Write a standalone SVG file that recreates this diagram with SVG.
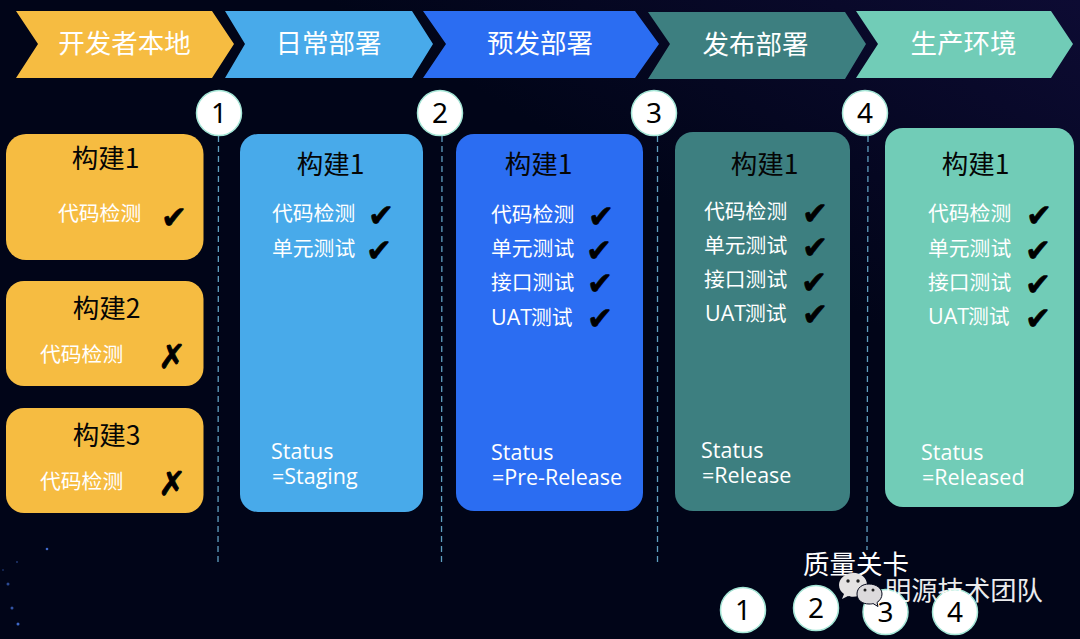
<svg xmlns="http://www.w3.org/2000/svg" width="1080" height="639" viewBox="0 0 1080 639">
<style>
text{font-family:"Noto Sans CJK SC","Noto Sans",sans-serif}
.h{font-size:26.5px;fill:#fff;text-anchor:middle}
.t{font-size:26.5px;fill:#050505;text-anchor:middle}
.i{font-size:20.8px;fill:#fff}
.s{font-size:21.5px;fill:#fff;font-family:"Open Sans","Noto Sans",sans-serif}
.k{font-size:31px;fill:#000;stroke:#000;stroke-width:.6;font-family:"DejaVu Sans",sans-serif;font-weight:700;text-anchor:middle}
.x{font-size:33px;fill:#000;stroke:#000;stroke-width:.9;font-family:"DejaVu Sans",sans-serif;font-weight:700;text-anchor:middle}
.n{font-size:28px;fill:#000;text-anchor:middle;font-family:"Noto Sans",sans-serif}
.c{fill:#fff;stroke:#a4e6d6;stroke-width:1.5}
.d{stroke:#5f9fc0;stroke-width:1.3;stroke-dasharray:6 4;fill:none}
.star{fill:#3f68c8}
.o{fill:#f6bc41}.b{fill:#48aaea}.u{fill:#2b6df2}.g{fill:#3d7f80}.m{fill:#71ccb7}
</style>
<defs>
<linearGradient id="bg" x1="0" y1="1" x2="1" y2="0"><stop offset="0" stop-color="#010518"/><stop offset="0.65" stop-color="#010518"/><stop offset="1" stop-color="#0d0b33"/></linearGradient>
</defs>
<rect width="1080" height="639" fill="url(#bg)"/>
<g id="stars">
<circle class="star" cx="47" cy="549" r="1.3"/><circle class="star" cx="17" cy="562" r="1" opacity=".5"/><circle class="star" cx="3" cy="570" r="1" opacity=".4"/><circle class="star" cx="8" cy="584" r="1.5" opacity=".7"/><circle class="star" cx="12" cy="608" r="1.5" opacity=".8"/><circle class="star" cx="18" cy="624" r="1.5"/>
</g>
<g id="connectors">
<line class="d" x1="218.5" y1="136" x2="218" y2="562"/>
<line class="d" x1="442" y1="136" x2="441.5" y2="562"/>
<line class="d" x1="657.5" y1="136" x2="657.5" y2="564"/>
<line class="d" x1="868" y1="136" x2="867" y2="550"/>
</g>
<g id="stage-local"><polygon class="o" points="16,11 212,11 234,44 212,78 16,78 38,44"/><text class="h" x="124.500" y="53">开发者本地</text></g>
<g id="stage-daily"><polygon class="b" points="225,11 412,11 433,44 412,78 225,78 245,44"/><text class="h" x="328.500" y="53">日常部署</text></g>
<g id="stage-pre"><polygon class="u" points="423,11 635,11 659,44 635,78 423,78 446,44"/><text class="h" x="540" y="53">预发部署</text></g>
<g id="stage-release"><polygon class="g" points="648,12 845,12 866,44 845,79 648,79 670,44"/><text class="h" x="755.500" y="54">发布部署</text></g>
<g id="stage-prod"><polygon class="m" points="856,11 1051,11 1073,44 1051,78 856,78 878,44"/><text class="h" x="963.500" y="53">生产环境</text></g>

<g id="gate-1"><circle class="c" cx="219" cy="113" r="22.5"/><text class="n" x="219" y="123">1</text></g>
<g id="gate-2"><circle class="c" cx="440" cy="113" r="22.5"/><text class="n" x="440" y="123">2</text></g>
<g id="gate-3"><circle class="c" cx="654" cy="113" r="22.5"/><text class="n" x="654" y="123">3</text></g>
<g id="gate-4"><circle class="c" cx="865" cy="113" r="22.5"/><text class="n" x="865" y="123">4</text></g>

<g id="build-1"><rect class="o" x="6" y="134" width="197.500" height="126" rx="20"/><text class="t" x="105.500" y="168">构建1</text><text class="i" x="58" y="221">代码检测</text><text class="k" x="174" y="228">✔</text></g>
<g id="build-2"><rect class="o" x="6" y="281" width="197.500" height="105" rx="18"/><text class="t" x="106.500" y="318">构建2</text><text class="i" x="40" y="362">代码检测</text><text class="x" x="172" y="368">✗</text></g>
<g id="build-3"><rect class="o" x="6" y="408" width="197.500" height="105" rx="18"/><text class="t" x="106.500" y="445">构建3</text><text class="i" x="40" y="489">代码检测</text><text class="x" x="172" y="495">✗</text></g>

<g id="card-daily"><rect class="b" x="240" y="134" width="183" height="378" rx="18"/><text class="t" x="330.500" y="174">构建1</text>
<text class="i" x="272" y="221">代码检测</text><text class="k" x="381" y="226">✔</text>
<text class="i" x="272" y="256">单元测试</text><text class="k" x="379" y="261">✔</text>
<text class="s" x="271" y="459">Status</text><text class="s" x="272" y="484">=Staging</text></g>

<g id="card-pre"><rect class="u" x="456" y="134" width="187" height="377" rx="18"/><text class="t" x="538.500" y="174">构建1</text>
<text class="i" x="491" y="222">代码检测</text><text class="k" x="601" y="227">✔</text>
<text class="i" x="491" y="256">单元测试</text><text class="k" x="599" y="261">✔</text>
<text class="i" x="491" y="290">接口测试</text><text class="k" x="600" y="294">✔</text>
<text class="s" x="491" y="325">UAT</text><text class="i" x="531" y="325">测试</text><text class="k" x="600" y="329">✔</text>
<text class="s" x="491" y="460">Status</text><text class="s" x="492" y="485">=Pre-Release</text></g>

<g id="card-release"><rect class="g" x="675" y="132" width="175" height="379" rx="18"/><text class="t" x="764.500" y="174">构建1</text>
<text class="i" x="704" y="219">代码检测</text><text class="k" x="815" y="224">✔</text>
<text class="i" x="704" y="253">单元测试</text><text class="k" x="815" y="258">✔</text>
<text class="i" x="704" y="287">接口测试</text><text class="k" x="814" y="293">✔</text>
<text class="s" x="705" y="321">UAT</text><text class="i" x="745" y="321">测试</text><text class="k" x="815" y="325">✔</text>
<text class="s" x="701" y="458">Status</text><text class="s" x="702" y="483">=Release</text></g>

<g id="card-prod"><rect class="m" x="885" y="128" width="189" height="379" rx="18"/><text class="t" x="975.500" y="174">构建1</text>
<text class="i" x="928" y="221">代码检测</text><text class="k" x="1039" y="226">✔</text>
<text class="i" x="928" y="256">单元测试</text><text class="k" x="1038" y="261">✔</text>
<text class="i" x="928" y="290">接口测试</text><text class="k" x="1038" y="295">✔</text>
<text class="s" x="928" y="324">UAT</text><text class="i" x="968" y="324">测试</text><text class="k" x="1038" y="329">✔</text>
<text class="s" x="921" y="460">Status</text><text class="s" x="922" y="485">=Released</text></g>

<g id="legend">
<text class="h" x="856" y="574">质量关卡</text>
<g id="legend-1"><circle class="c" cx="743" cy="610" r="22.5"/><text class="n" x="743" y="620">1</text></g>
<g id="legend-2"><circle class="c" cx="816" cy="608" r="22.5"/><text class="n" x="816" y="618">2</text></g>
<g id="legend-3"><circle class="c" cx="885.500" cy="612" r="22.5"/><text class="n" x="885.500" y="622">3</text></g>
<g id="legend-4"><circle class="c" cx="955" cy="612" r="22.500"/><text class="n" x="955" y="622">4</text></g>
</g>
<g id="watermark">
<path d="M853 573c-8 0-14 6-14 12 0 4 2 7 5 9l-2 5 6-3c2 .6 3 .8 5 .8 8 0 14-5 14-12s-6-12-14-12z" fill="#e4e2e2"/>
<path d="M869 584c-7 0-12 4-12 10s5 10 12 10c2 0 3 0 4-.5l5 3-1-4c3-2 5-5 5-8.500 0-6-6-10-13-10z" fill="#dcdadc" stroke="#010518" stroke-width="1"/>
<circle cx="848" cy="581" r="1.700" fill="#222"/><circle cx="858" cy="581" r="1.700" fill="#222"/><circle cx="865" cy="590" r="1.500" fill="#222"/><circle cx="873" cy="590" r="1.500" fill="#222"/>
<text x="885" y="600" style="font-size:26.3px;fill:#fff;opacity:.92">明源技术团队</text>
</g>
</svg>
